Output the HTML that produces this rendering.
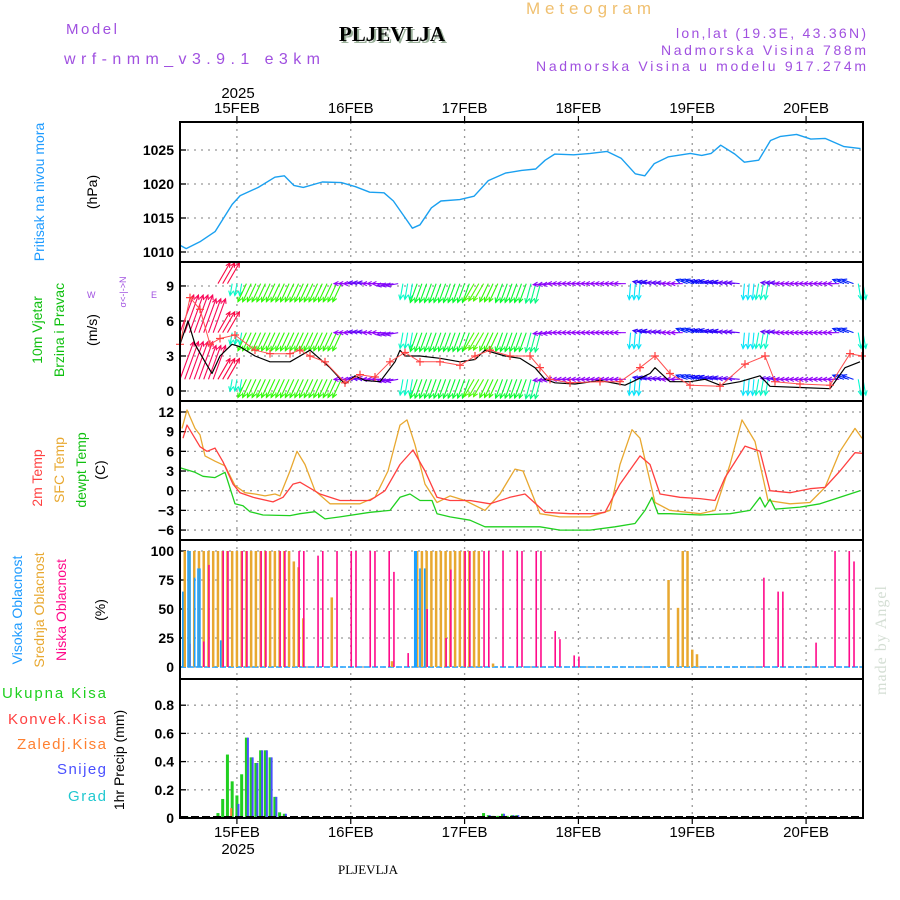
<!DOCTYPE html>
<html><head><meta charset="utf-8"><style>
body{margin:0;background:#fff;}
svg{display:block;font-family:"Liberation Sans",sans-serif;}
</style></head><body>
<svg id="chart" width="900" height="900" viewBox="0 0 900 900" xmlns="http://www.w3.org/2000/svg">
<rect width="900" height="900" fill="#fff"/>
<text x="526" y="14" font-size="17" fill="#f0c070" textLength="125" lengthAdjust="spacing">Meteogram</text>
<text x="66" y="34" font-size="15" fill="#a050e0" textLength="51" lengthAdjust="spacing">Model</text>
<text x="64" y="64" font-size="16" fill="#a050e0" textLength="256" lengthAdjust="spacing">wrf-nmm_v3.9.1 e3km</text>
<text x="394" y="43" font-size="21" font-weight="bold" font-family="Liberation Serif,serif" fill="#9ab09a" text-anchor="middle">PLJEVLJA</text>
<text x="392" y="41" font-size="21" font-weight="bold" font-family="Liberation Serif,serif" fill="#000" text-anchor="middle">PLJEVLJA</text>
<text x="676" y="38" font-size="14" fill="#a050e0" textLength="190" lengthAdjust="spacing">lon,lat (19.3E, 43.36N)</text>
<text x="661" y="55" font-size="14" fill="#a050e0" textLength="205" lengthAdjust="spacing">Nadmorska Visina 788m</text>
<text x="536" y="71" font-size="14" fill="#a050e0" textLength="330" lengthAdjust="spacing">Nadmorska Visina u modelu 917.274m</text>
<text x="238" y="98" font-size="15" text-anchor="middle">2025</text>
<text x="238" y="854" font-size="15" text-anchor="middle">2025</text>
<text x="368" y="874" font-size="13" font-family="Liberation Serif,serif" text-anchor="middle">PLJEVLJA</text>
<text transform="translate(886,640) rotate(-90)" font-size="16" fill="#d4ded4" text-anchor="middle" font-family="Liberation Serif,serif" letter-spacing="1">made by Angel</text>

<g>
<text transform="translate(44,192) rotate(-90)" font-size="14" fill="#1e9bff" text-anchor="middle">Pritisak na nivou mora</text>
<text transform="translate(97,192) rotate(-90)" font-size="14" text-anchor="middle">(hPa)</text>
</g>
<g>
<text transform="translate(42,330) rotate(-90)" font-size="14" fill="#10c010" text-anchor="middle">10m Vjetar</text>
<text transform="translate(64,330) rotate(-90)" font-size="14" fill="#10c010" text-anchor="middle">Brzina i Pravac</text>
<text transform="translate(97,330) rotate(-90)" font-size="14" text-anchor="middle">(m/s)</text>
<text transform="translate(126,292) rotate(-90)" font-size="9" fill="#a050e0" text-anchor="middle">σ&lt;-|-&gt;N</text>
<text x="87" y="298" font-size="9" fill="#a050e0">W</text>
<text x="151" y="298" font-size="9" fill="#a050e0">E</text>
</g>
<g>
<text transform="translate(42,478) rotate(-90)" font-size="14" fill="#ff4040" text-anchor="middle">2m Temp</text>
<text transform="translate(64,470) rotate(-90)" font-size="14" fill="#e8a830" text-anchor="middle">SFC Temp</text>
<text transform="translate(86,470) rotate(-90)" font-size="14" fill="#10c010" text-anchor="middle">dewpt Temp</text>
<text transform="translate(105,470) rotate(-90)" font-size="14" text-anchor="middle">(C)</text>
</g>
<g>
<text transform="translate(22,610) rotate(-90)" font-size="14" fill="#1e9bff" text-anchor="middle">Visoka Oblacnost</text>
<text transform="translate(44,610) rotate(-90)" font-size="14" fill="#e8a830" text-anchor="middle">Srednja Oblacnost</text>
<text transform="translate(66,610) rotate(-90)" font-size="14" fill="#ff0a8a" text-anchor="middle">Niska Oblacnost</text>
<text transform="translate(105,610) rotate(-90)" font-size="14" text-anchor="middle">(%)</text>
</g>
<g font-size="15">
<text x="2" y="698" fill="#20d020" textLength="104" lengthAdjust="spacing">Ukupna  Kisa</text>
<text x="8" y="724" fill="#ff4040" textLength="98" lengthAdjust="spacing">Konvek.Kisa</text>
<text x="17" y="749" fill="#ff8030" textLength="89" lengthAdjust="spacing">Zaledj.Kisa</text>
<text x="57" y="774" fill="#4a50ff" textLength="49" lengthAdjust="spacing">Snijeg</text>
<text x="68" y="801" fill="#20c8d0" textLength="38" lengthAdjust="spacing">Grad</text>
<text transform="translate(124,760) rotate(-90)" font-size="14" fill="#000" text-anchor="middle">1hr Precip (mm)</text>
</g>
<g id="plots"></g>
</svg>
<script>
// ---- data ----
const dayLabels = ["15FEB","16FEB","17FEB","18FEB","19FEB","20FEB"];
const dayHours = [12,36,60,84,108,132];
const pressureTicks = [1010,1015,1020,1025];
const windTicks = [0,3,6,9];
const tempTicks = [-6,-3,0,3,6,9,12];
const cloudTicks = [0,25,50,75,100];
const precipTicks = [0,0.2,0.4,0.6,0.8];

const pressureHours = [0,1.3,4.2,7.4,11,12.7,16.5,20,22,24,26,30,34,37,40,43,45,47.5,49,50.6,53,55,59,62,65,68.6,72,75,77,79,83,86.5,90,93,96,98,100,103,107.6,110,112,114,117,119,122,124.5,126.6,130,133,136,140,143.5];
const pressureValues = [1011,1010.5,1011.5,1013,1017,1018.3,1019.5,1021,1021.2,1019.8,1019.5,1020.3,1020.2,1019.6,1018.8,1018.7,1017.5,1015,1013.5,1014,1016.5,1017.5,1017.7,1018.2,1020.5,1021.6,1022,1022.2,1023.5,1024.4,1024.3,1024.5,1024.8,1023.8,1021.5,1021.2,1023,1024,1024.5,1024.2,1024.5,1025.7,1024.4,1023.2,1023.5,1026.4,1027,1027.3,1026.6,1026.7,1025.5,1025.2];

const t2X = [183,187,200,207,215,223,233,240,253,273,283,293,300,320,340,370,385,400,413,425,437,450,470,490,510,525,545,570,595,605,620,640,650,660,680,700,715,725,745,760,770,790,810,825,840,855,862];
const t2Values = [8,10,6.7,6,6.5,4.4,1,-0.3,-1,-1.7,-1,1,1.3,-0.5,-1.5,-1.5,0,4,6.2,3,-1,-1.5,-1.5,-2,-1,-0.5,-3.3,-3.5,-3.5,-3.3,1,5.3,4,-0.5,-1,-1.2,-1.5,2,6.8,6,0,-0.3,0.3,0.5,3,5.8,5.7];
const sfcX = [182,187,195,200,205,215,225,235,245,255,265,275,280,290,297,305,315,330,360,375,388,400,407,415,425,437,450,465,485,500,515,523,540,560,590,610,620,632,640,655,670,700,715,730,742,755,768,790,810,825,840,855,862];
const sfcValues = [9.5,12.3,9.5,8.5,5.3,4.5,3.8,0.8,-0.3,-0.5,-0.8,-0.5,-0.8,3,6,4,0,-2,-2,-1,3,10,10.8,7,1,-1.8,-0.8,-1.5,-3,-0.5,3.3,3,-3.5,-4,-4,-3,4,9.3,8,-1.8,-3,-3.5,-3,4,10.8,7.5,-1.5,-2,-1.8,0.5,6,9.5,8];
const dewX = [180,195,203,215,225,235,243,250,263,290,300,315,325,340,370,390,400,410,420,432,437,450,470,485,500,520,540,560,590,615,635,645,652,658,670,700,730,750,760,765,770,775,800,820,840,860];
const dewValues = [3.5,2.8,2.2,2,2.8,-2,-2.3,-3.2,-3.7,-3.8,-3.5,-3.2,-4.3,-4,-3.3,-3,-1,-0.5,-1.5,-1.5,-3.5,-4,-4.5,-5.5,-5.5,-5.5,-5.5,-6,-6,-5.5,-5,-3,-1,-3.5,-3.5,-3.7,-3.5,-3,-1,-2.5,-1.3,-2.8,-2.5,-2,-1,0];

const windX = [180,188,195,205,212,220,232,240,255,270,290,300,310,330,345,355,365,380,395,400,405,420,440,460,475,485,505,520,535,545,555,575,600,625,650,655,670,690,705,720,740,760,770,800,830,845,860];
const windValues = [4,6,4,2.5,1.5,3,4,3.8,3,2.5,2.5,3,3.5,2,0.6,1.3,0.9,0.8,2.5,3.5,3,3,2.8,2.5,2.7,3.5,3,2.8,2,1,0.7,0.6,0.9,0.5,1.5,2,0.8,0.8,1,0.5,0.8,1.3,0.4,0.3,0.2,2,2.5];
const gustX = [180,190,200,210,220,235,255,270,290,300,310,325,345,360,375,390,405,420,440,460,475,490,510,530,540,550,570,600,620,640,655,670,690,720,745,765,775,800,830,850,862];
const gustValues = [4,8,7,4,4.5,4.8,3.5,3.2,3.2,3.5,3,2.5,0.7,1.4,1.2,2.5,3.3,2.5,2.5,2.2,3,3.5,3,3,2,1,0.7,0.8,0.8,2,3,1.5,0.5,0.4,2.3,3,0.8,0.6,0.5,3.2,3];

// 3-hourly wind vector direction (screen degrees of arrow) and speed (m/s)
const windDir = [-70,-70,-70,-60,100,115,115,115,115,115,115,115,180,185,180,170,100,110,110,110,110,120,115,110,110,105,175,180,180,180,180,180,95,190,185,180,200,195,190,185,95,100,185,180,180,180,180,200,80];
const windSpd = [10,10,9,6,3,5,5,5,5,5,5,5,3,3,3,3,4,5,5,5,5,5,5,5,5,5,3,3,3,3,3,3,4,3,3,3,3,3,3,3,4,4,3,3,3,3,3,3,4];
const windRowLevels = [9.2,5.0,1.0];

// clouds: [hour, percent]
const cloudHigh = [[0.7,65],[1.8,100],[2.2,100],[3.2,77],[3.9,85],[4.3,85],[8.7,23],[49.6,100],[49.9,100],[50.7,85],[51.7,85]];
const cloudMid = [[1,100],[2,100],[3,100],[4,100],[5,100],[6,100],[7,100],[8,100],[9,100],[10,100],[11,100],[12,100],[13,100],[14,100],[15,100],[16,100],[17,100],[18,100],[19,100],[20,100],[21,100],[22,100],[23,100],[24,91],[25,86],[26,42],[32,60],[44.7,5],[50,100],[51,100],[52,100],[53,100],[54,100],[55,100],[56,100],[57,100],[58,100],[59,100],[60,100],[61,100],[62,100],[63,100],[66,3],[103,75],[105,51],[106,100],[107,100],[108,15],[109,11]];
const cloudLow = [[2,20],[4.9,22],[6,88],[9,100],[10,100],[13,100],[14,100],[17,100],[18,100],[21,100],[22,100],[25,100],[26,100],[29,96],[30,100],[33,100],[36,100],[37,100],[40,100],[41,100],[44,100],[45,82],[48,12],[52,50],[56,25],[57,84],[60,100],[61,100],[64,100],[65,100],[68,100],[71,100],[72,100],[75,100],[76,100],[79,31],[80,24],[83,10],[84,9],[123,77],[126,65],[127,65],[134,21],[138,100],[141,100],[142,91]];

// precip: [hour, mm]
const precipTotal = [[0.5,0.01],[1.5,0.01],[8,0.035],[9,0.135],[10,0.45],[11,0.26],[12,0.16],[13,0.31],[14,0.57],[15,0.43],[16,0.39],[17,0.48],[18,0.48],[19,0.43],[20,0.15],[21,0.04],[22,0.03],[64,0.035],[65,0.02],[66,0.015],[67,0.015],[68,0.03],[69,0.015],[70,0.02],[71,0.02]];
const precipSnow = [[12,0.1],[14,0.57],[15,0.43],[16,0.39],[17,0.48],[18,0.48],[19,0.43],[20,0.15],[22,0.03],[65,0.02],[66,0.012],[68,0.03],[70,0.02],[71,0.02]];
const precipFreezing = [[0.5,0.01],[11,0.07]];

// ---- scales ----
const X0 = 180, X1 = 863, H = 144;
function xs(h){ return X0 + h*(X1-X0)/H; }
const yP = v => 252 - (v-1010)*6.8;
const yW = v => 391 - v*11.67;
const yT = v => 490.7 - v*6.56;
const yC = v => 667 - v*1.16;
const yR = v => 818 - v*141;
const panels = [[122,262],[262,401],[401,540],[540,679],[679,818]];

const NS = "http://www.w3.org/2000/svg";
const plots = document.getElementById('plots');
function mk(tag, attrs, parent){
  const e = document.createElementNS(NS, tag);
  for (const k in attrs) e.setAttribute(k, attrs[k]);
  (parent||plots).appendChild(e);
  return e;
}

panels.forEach((p,i)=>{
  dayHours.forEach(h=>{
    const l = mk('line',{x1:xs(h),x2:xs(h),y1:p[0],y2:p[1],stroke:'#999','stroke-width':1.3,'stroke-dasharray':'2,5'});
    
    
  });
});
function hgrid(ticks, yf, fmt, name){
  ticks.forEach(t=>{
    const y = yf(t);
    const l = mk('line',{x1:X0,x2:X1,y1:y,y2:y,stroke:'#999','stroke-width':1.3,'stroke-dasharray':'2,5'});
    
    
    const tk = mk('line',{x1:X0,x2:X0+6,y1:y,y2:y,stroke:'#000','stroke-width':1.3});
    
    
    const tx = mk('text',{x:X0-6,y:y+5,'font-size':14,'text-anchor':'end','font-weight':'bold'});
    tx.textContent = fmt(t);
    
    
  });
}
hgrid(pressureTicks, yP, t=>t, 'pressure-y');
hgrid(windTicks, yW, t=>t, 'wind-y');
hgrid(tempTicks, yT, t=>t<0?'−'+(-t):t, 'temp-y');
hgrid(cloudTicks, yC, t=>t, 'cloud-y');
hgrid(precipTicks, yR, t=>t===0?'0':t.toFixed(1), 'precip-y');

function line(xsArr, ys, color, w, name){
  const d = xsArr.map((x,i)=>(i?'L':'M')+x.toFixed(1)+','+ys[i].toFixed(1)).join('');
  const p = mk('path',{d:d,fill:'none',stroke:color,'stroke-width':w,'stroke-linejoin':'round'});
  
  
  return p;
}
line(pressureHours.map(xs), pressureValues.map(yP), '#1aa0f0', 1.4, 'pressure-line');

function hue(a){
  const tbl=[[-90,330],[-60,345],[-20,30],[60,55],[80,170],[95,185],[105,150],[115,110],[130,90],[170,270],[180,275],[190,250],[205,225]];
  if(a<=tbl[0][0]) return tbl[0][1];
  for(let i=1;i<tbl.length;i++){ if(a<=tbl[i][0]){const [a0,h0]=tbl[i-1],[a1,h1]=tbl[i];return h0+(h1-h0)*(a-a0)/(a1-a0);} }
  return tbl[tbl.length-1][1];
}
windRowLevels.forEach(lv=>{
  for(let h=0; h<=H; h++){
    const i = Math.min(windDir.length-1, Math.round(h/3));
    const a = windDir[i]*Math.PI/180, len = windSpd[i]*4;
    const x0 = xs(h), y0 = yW(lv);
    const x1 = x0+Math.cos(a)*len, y1 = y0+Math.sin(a)*len;
    if (y1 < 262 || y1 > 401) continue;
    const c = 'hsl('+hue(windDir[i]).toFixed(0)+',95%,50%)';
    const g = mk('g',{stroke:c,'stroke-width':1.1,fill:'none'});
    
    
    mk('line',{x1:x0,y1:y0,x2:x1,y2:y1},g);
    const ha = 0.45, hl = 5;
    mk('path',{d:`M${x1+Math.cos(a+Math.PI-ha)*hl},${y1+Math.sin(a+Math.PI-ha)*hl}L${x1},${y1}L${x1+Math.cos(a+Math.PI+ha)*hl},${y1+Math.sin(a+Math.PI+ha)*hl}`},g);
  }
});
line(windX, windValues.map(yW), '#000', 1.2, 'wind-speed-line');
line(gustX, gustValues.map(yW), '#ff5050', 1, 'wind-gust-line');
gustX.forEach((x,i)=>{
  const y = yW(gustValues[i]);
  const c = mk('path',{d:`M${x-4},${y}h8M${x},${y-4}v8`,stroke:'#ff4040','stroke-width':1.2});
  
  
});

line(sfcX, sfcValues.map(yT), '#e8a830', 1.3, 'sfc-temp-line');
line(t2X, t2Values.map(yT), '#ff4040', 1.3, 'temp-2m-line');
line(dewX, dewValues.map(yT), '#20d020', 1.3, 'dewpoint-line');

mk('line',{x1:X0,x2:X1,y1:yC(0),y2:yC(0),stroke:'#1a9fff','stroke-width':1.5,'stroke-dasharray':'6,2'});
function bars(arr, yf, color, w, off, name){
  arr.forEach(([h,v])=>{
    const x = xs(h)+off, y = yf(v), y0 = yf(0);
    const r = mk('rect',{x:x-w/2,y:Math.min(y,y0),width:w,height:Math.abs(y0-y),fill:color});
    
    
  });
}
bars(cloudMid, yC, '#e8a830', 2.5, 0, 'cloud-mid-bar');
bars(cloudLow, yC, '#ff0a8a', 1.6, 0.5, 'cloud-low-bar');
bars(cloudHigh, yC, '#1a9fff', 1.6, -0.5, 'cloud-high-bar');

bars(precipTotal, yR, '#20d020', 3, 0, 'precip-total-bar');
bars(precipSnow, yR, '#4a50ff', 2, 1.5, 'precip-snow-bar');
bars(precipFreezing, yR, '#ff8030', 2, -1, 'precip-freezing-bar');
mk('line',{x1:X0,x2:X1,y1:817,y2:817,stroke:'#000','stroke-width':2,'stroke-dasharray':'8,3'});

panels.forEach((p,i)=>{
  const r = mk('rect',{x:X0,y:p[0],width:X1-X0,height:p[1]-p[0],fill:'none',stroke:'#000','stroke-width':2});
  
  
});
dayHours.forEach((h,i)=>{
  const x = xs(h);
  mk('line',{x1:x,x2:x,y1:122,y2:116,stroke:'#000','stroke-width':1.2});
  mk('line',{x1:x,x2:x,y1:818,y2:824,stroke:'#000','stroke-width':1.2});
  const t = mk('text',{x:x,y:113,'font-size':15,'text-anchor':'middle'});
  t.textContent = dayLabels[i];
  
  
  const b = mk('text',{x:x,y:837,'font-size':15,'text-anchor':'middle'});
  b.textContent = dayLabels[i];
  
  
});
</script>
</body></html>
